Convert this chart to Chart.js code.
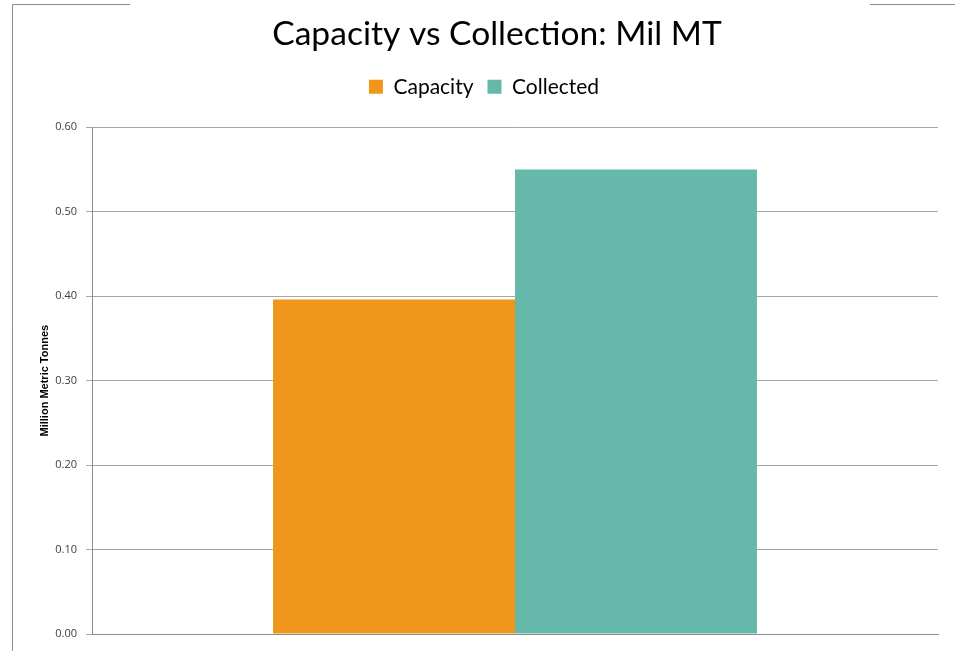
<!DOCTYPE html>
<html>
<head>
<meta charset="utf-8">
<title>Capacity vs Collection</title>
<script src="https://cdn.jsdelivr.net/npm/chart.js@4.4.0/dist/chart.umd.min.js"></script>
<style>
  html, body { margin: 0; padding: 0; background: #ffffff; }
  #wrap { position: relative; width: 955px; height: 651px; }
</style>
</head>
<body>
<div id="wrap"><canvas id="chart" width="955" height="651"></canvas></div>
<script>
  // data
  var categories = [''];
  var seriesNames = ['Capacity', 'Collected'];
  var capacityValues = [0.396];
  var collectedValues = [0.55];
  var yTicks = [0, 0.1, 0.2, 0.3, 0.4, 0.5, 0.6];

  var colors = {
    capacity: '#EF961B',
    collected: '#66B8AA',
    grid: '#a6a6a6',
    axis: '#8c8c8c',
    text: '#404040',
    frame: '#8c8c8c'
  };

  // page frame bits + small layout nudges to match the original
  var framePlugin = {
    id: 'frame',
    afterInit: function(chart) {
      // extra room under the legend
      var legend = chart.legend;
      if (legend) {
        var origFit = legend.fit;
        legend.fit = function() {
          origFit.call(this);
          this.height += 20;
        };
      }
    },
    afterLayout: function(chart) {
      // title sits a bit right of the plot centre
      if (chart.titleBlock) {
        chart.titleBlock.left += 13;
        chart.titleBlock.right += 13;
      }
    },
    beforeDraw: function(chart) {
      var ctx = chart.ctx;
      ctx.save();
      ctx.strokeStyle = colors.frame;
      ctx.lineWidth = 1;
      ctx.beginPath();
      ctx.moveTo(12.5, 4.5); ctx.lineTo(130, 4.5);
      ctx.moveTo(12.5, 4.5); ctx.lineTo(12.5, 651);
      ctx.moveTo(870, 4.5); ctx.lineTo(955, 4.5);
      ctx.stroke();
      ctx.restore();
    }
  };

  new Chart(document.getElementById('chart').getContext('2d'), {
    type: 'bar',
    data: {
      labels: categories,
      datasets: [
        { label: seriesNames[0], data: capacityValues, backgroundColor: colors.capacity },
        { label: seriesNames[1], data: collectedValues, backgroundColor: colors.collected }
      ]
    },
    options: {
      responsive: false,
      animation: false,
      layout: { padding: { left: 30, right: 17, top: 0, bottom: 17 } },
      datasets: { bar: { categoryPercentage: 0.572, barPercentage: 1 } },
      scales: {
        x: {
          grid: { display: false },
          border: { display: true, color: colors.axis, width: 1 },
          ticks: { display: false },
          afterFit: function(scale) { scale.height = 0; }
        },
        y: {
          min: 0,
          max: 0.6,
          afterBuildTicks: function(scale) {
            scale.ticks = yTicks.map(function(v) { return { value: v }; });
          },
          grid: { color: colors.grid, tickLength: 6, drawTicks: true },
          border: { display: true, color: colors.axis },
          ticks: {
            padding: 9,
            color: colors.text,
            font: { family: "'Open Sans', sans-serif", size: 11 },
            callback: function(v) { return Number(v).toFixed(2); }
          },
          title: {
            display: true,
            text: 'Million Metric Tonnes',
            color: '#000000',
            padding: { top: 8, bottom: 0 },
            font: { family: "'Liberation Sans', sans-serif", size: 11, weight: 'bold' }
          },
          afterFit: function(scale) { scale.width = 62; }
        }
      },
      plugins: {
        title: {
          display: true,
          text: 'Capacity vs Collection: Mil MT',
          color: '#000000',
          padding: { top: 14, bottom: 8 },
          font: { family: "'Lato', sans-serif", size: 33.6, weight: 'normal' }
        },
        legend: {
          labels: {
            boxWidth: 14,
            boxHeight: 14,
            padding: 14,
            color: '#000000',
            font: { family: "'Lato', sans-serif", size: 21 }
          }
        },
        tooltip: { enabled: false }
      }
    },
    plugins: [framePlugin]
  });
</script>
</body>
</html>
